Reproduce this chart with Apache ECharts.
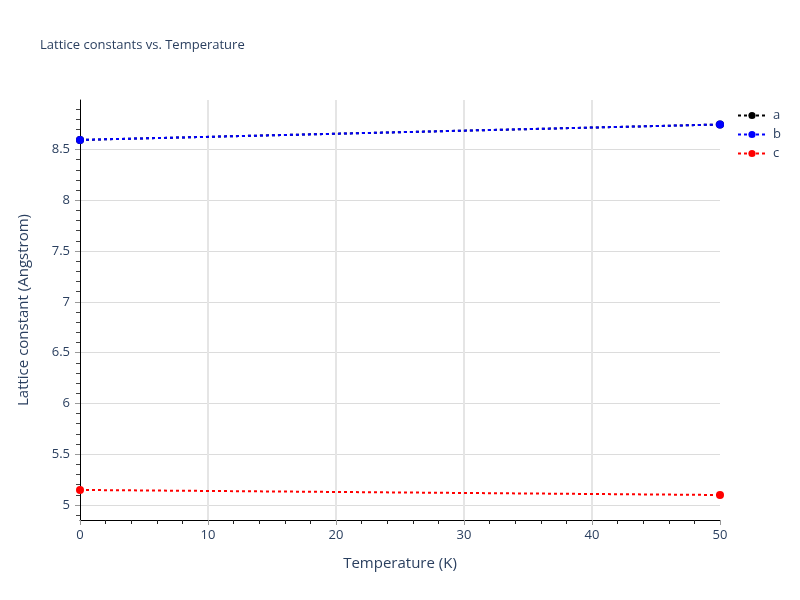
<!DOCTYPE html>
<html>
<head>
<meta charset="utf-8">
<script src="https://cdn.jsdelivr.net/npm/echarts@6/dist/echarts.min.js"></script>
<style>html,body{margin:0;padding:0;background:#fff;}#chart{width:800px;height:600px;}</style>
</head>
<body>
<div id="chart"></div>
<script>
// Data
const temperatures = [0, 50];
const seriesA = [8.594, 8.746];
const seriesB = [8.594, 8.746];
const seriesC = [5.148, 5.098];
const yMajorTicks = [5, 5.5, 6, 6.5, 7, 7.5, 8, 8.5];
const yMinorTicks = [4.9, 5.1, 5.2, 5.3, 5.4, 5.6, 5.7, 5.8, 5.9, 6.1, 6.2, 6.3, 6.4, 6.6, 6.7, 6.8, 6.9,
  7.1, 7.2, 7.3, 7.4, 7.6, 7.7, 7.8, 7.9, 8.1, 8.2, 8.3, 8.4, 8.6, 8.7, 8.8, 8.9];

const font = '"Open Sans", verdana, arial, sans-serif';
const textColor = '#2a3f5f';

function mkSeries(name, data, color) {
  return {
    name: name,
    type: 'line',
    data: temperatures.map((t, i) => [t, data[i]]),
    symbol: 'circle',
    symbolSize: 8,
    showSymbol: true,
    itemStyle: { color: color },
    lineStyle: { color: color, width: 2, type: [3, 3] },
    clip: true
  };
}

const chart = echarts.init(document.getElementById('chart'));
chart.setOption({
  animation: false,
  backgroundColor: '#fff',
  textStyle: { fontFamily: font },
  title: {
    text: 'Lattice constants vs. Temperature',
    left: 35, top: 34,
    textStyle: { fontFamily: font, fontSize: 13, fontWeight: 'normal', color: textColor }
  },
  legend: {
    orient: 'vertical',
    left: 732, top: 104,
    itemWidth: 28, itemHeight: 9, itemGap: 6,
    textStyle: { fontFamily: font, fontSize: 13, color: textColor, padding: [0, 0, 0, 2] },
    data: ['a', 'b', 'c']
  },
  grid: { left: 80, right: 80, top: 100, bottom: 80, containLabel: false },
  xAxis: {
    type: 'value',
    min: 0, max: 50, interval: 10,
    name: 'Temperature (K)',
    nameLocation: 'middle',
    nameGap: 36,
    nameTextStyle: { fontFamily: font, fontSize: 15, color: textColor },
    axisLine: { show: true, onZero: false, lineStyle: { color: '#000', width: 1 } },
    axisTick: { show: true, length: 5, lineStyle: { color: '#999' } },
    minorTick: { show: true, splitNumber: 5, length: 4, lineStyle: { color: '#222' } },
    axisLabel: { fontFamily: font, fontSize: 13, color: textColor, margin: 9 },
    splitLine: { show: true, showMinLine: false, showMaxLine: false, lineStyle: { color: '#e5e5e5', width: 2 } }
  },
  yAxis: [
    {
      type: 'value',
      min: 4.852, max: 8.987,
      position: 'left',
      name: 'Lattice constant (Angstrom)',
      nameLocation: 'middle',
      nameGap: 49,
      nameTextStyle: { fontFamily: font, fontSize: 15, color: textColor },
      axisLine: { show: true, onZero: false, lineStyle: { color: '#000', width: 1 } },
      axisTick: { show: true, length: 5, customValues: yMajorTicks, lineStyle: { color: '#999' } },
      axisLabel: { fontFamily: font, fontSize: 13, color: textColor, margin: 10, customValues: yMajorTicks },
      splitLine: { show: true, lineStyle: { color: '#dcdcdc', width: 1 } }
    },
    {
      type: 'value',
      min: 4.852, max: 8.987,
      position: 'left',
      offset: 0,
      axisLine: { show: false },
      axisTick: { show: true, length: 4, customValues: yMinorTicks, lineStyle: { color: '#444' } },
      axisLabel: { show: false },
      splitLine: { show: false }
    }
  ],
  series: [
    mkSeries('a', seriesA, '#000000'),
    mkSeries('b', seriesB, '#0000ff'),
    mkSeries('c', seriesC, '#ff0000')
  ]
});
</script>
</body>
</html>
